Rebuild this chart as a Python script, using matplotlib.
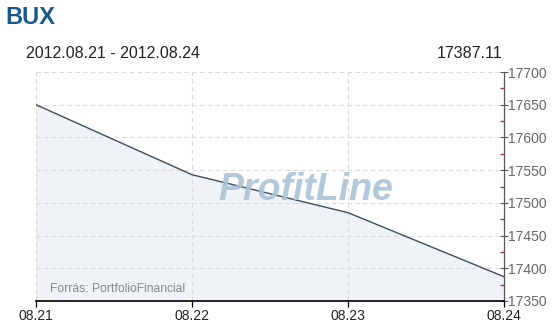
import matplotlib
matplotlib.use("Agg")
import matplotlib.pyplot as plt
from matplotlib.ticker import MultipleLocator

plt.rcParams['font.family'] = ['Liberation Sans', 'DejaVu Sans']

dates = ["08.21", "08.22", "08.23", "08.24"]
values = [17650.0, 17543.0, 17485.0, 17387.11]
title = "BUX"
period = "2012.08.21 - 2012.08.24"
last_value = "17387.11"
source = "Forrás: PortfolioFinancial"
watermark = "ProfitLine"

W, H = 556, 327
fig = plt.figure(figsize=(W / 100, H / 100), dpi=100)
L, R, T, B = 36, 504, 72, 301
ax = fig.add_axes([L / W, (H - B) / H, (R - L) / W, (B - T) / H])

x = list(range(len(dates)))
ymin, ymax = 17350, 17700
ax.fill_between(x, values, ymin, color="#eff3f7", zorder=0.2)
ax.plot(x, values, color="#3d5060", lw=1.0, zorder=3)

ax.set_xlim(0, len(dates) - 1)
ax.set_ylim(ymin, ymax)
ax.set_xticks(x)
ax.set_xticklabels(dates)
ax.yaxis.set_major_locator(MultipleLocator(50))
ax.yaxis.set_minor_locator(MultipleLocator(25))
ax.yaxis.tick_right()
ax.yaxis.set_label_position("right")

ax.grid(True, which="major", color="#dadada", ls=(0, (4, 3)), lw=0.8)
ax.set_axisbelow(True)

for s in ["top", "left"]:
    ax.spines[s].set_visible(False)
ax.spines["bottom"].set_color("#000000")
ax.spines["bottom"].set_linewidth(1.2)
ax.spines["right"].set_color("#555555")
ax.spines["right"].set_linewidth(0.9)

ax.tick_params(axis="x", direction="out", length=4, width=0.9, color="#000000",
               labelsize=10, labelcolor="#222222", pad=2)
ax.tick_params(axis="y", which="major", direction="inout", length=6, width=0.8,
               color="#555555", labelsize=10, labelcolor="#666666", pad=0)
ax.tick_params(axis="y", which="minor", direction="in", length=3, width=1.0,
               color="#cc2244")

ax.set_facecolor("none")

fig.text(5 / W, 1 - 18 / H, title, fontsize=17, fontweight="bold", color="#1a5a8a",
         ha="left", va="center")
fig.text(26 / W, 1 - 53 / H, period, fontsize=11.5, color="#222222", ha="left", va="center")
fig.text(502 / W, 1 - 53 / H, last_value, fontsize=11.5, color="#222222", ha="right", va="center")
fig.text(50 / W, 1 - 289 / H, source, fontsize=8.7, color="#888888", ha="left", va="center")
fig.text(306 / W, 1 - 190 / H, watermark, fontsize=27, fontweight="bold", style="italic",
         color="#a9c3d6", ha="center", va="center", zorder=2, alpha=0.9)

fig.savefig("out.png", dpi=100)
